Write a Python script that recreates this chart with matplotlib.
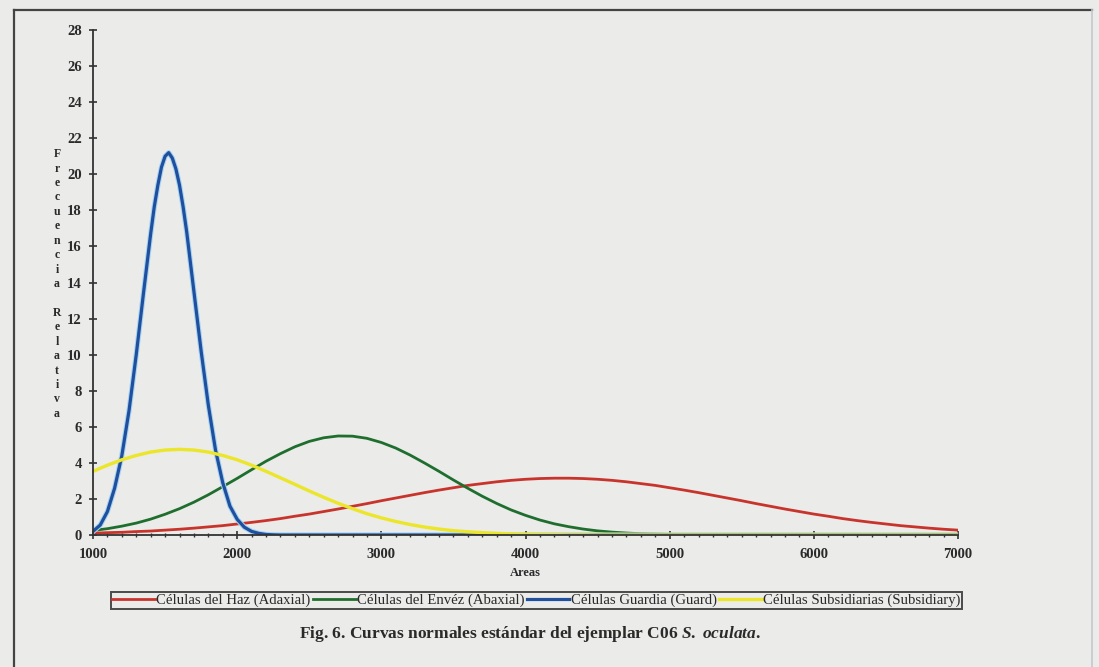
import numpy as np
import matplotlib
matplotlib.use("Agg")
import matplotlib.pyplot as plt

# areas (x) sampled every 100
areas = list(range(1000, 7001, 100))

# Células del Haz (Adaxial)
haz = [0.10, 0.13, 0.15, 0.19, 0.22, 0.27, 0.32, 0.38, 0.45, 0.52,
       0.61, 0.70, 0.80, 0.91, 1.04, 1.16, 1.30, 1.44, 1.59, 1.74,
       1.90, 2.05, 2.20, 2.35, 2.49, 2.62, 2.75, 2.85, 2.95, 3.03,
       3.09, 3.13, 3.15, 3.15, 3.13, 3.09, 3.03, 2.95, 2.85, 2.75,
       2.62, 2.49, 2.35, 2.20, 2.05, 1.90, 1.74, 1.59, 1.44, 1.30,
       1.16, 1.04, 0.91, 0.80, 0.70, 0.61, 0.52, 0.45, 0.38, 0.32,
       0.27]

# Células del Envéz (Abaxial)
enves = [0.25, 0.35, 0.49, 0.66, 0.88, 1.15, 1.46, 1.82, 2.23, 2.68,
         3.14, 3.62, 4.09, 4.51, 4.89, 5.19, 5.39, 5.49, 5.48, 5.36,
         5.13, 4.82, 4.43, 3.99, 3.53, 3.05, 2.59, 2.15, 1.75, 1.39,
         1.09, 0.83, 0.62, 0.46, 0.33, 0.23, 0.16, 0.11, 0.07, 0.05,
         0.03, 0.02, 0.01, 0.01, 0, 0, 0, 0, 0, 0,
         0, 0, 0, 0, 0, 0, 0, 0, 0, 0,
         0]

# Células Subsidiarias (Subsidiary)
subsid = [3.53, 3.87, 4.17, 4.41, 4.60, 4.71, 4.75, 4.71, 4.60, 4.41,
          4.17, 3.87, 3.53, 3.17, 2.81, 2.44, 2.09, 1.76, 1.46, 1.18,
          0.95, 0.75, 0.58, 0.44, 0.33, 0.24, 0.18, 0.13, 0.09, 0.06,
          0.04, 0.03, 0.02, 0.01, 0.01, 0, 0, 0, 0, 0,
          0, 0, 0, 0, 0, 0, 0, 0, 0, 0,
          0, 0, 0, 0, 0, 0, 0, 0, 0, 0,
          0]

# Células Guardia (Guard) - narrow peak, read more densely
areas_guard = [1000, 1050, 1100, 1150, 1200, 1250, 1300, 1350, 1400, 1425,
               1450, 1475, 1500, 1525, 1550, 1575, 1600, 1625, 1650, 1700,
               1750, 1800, 1850, 1900, 1950, 2000, 2050, 2100, 2150, 2200,
               2250, 2300, 2400, 7000]
guard = [0.20, 0.55, 1.30, 2.60, 4.40, 6.90, 10.0, 13.4, 16.7, 18.2,
         19.4, 20.4, 21.0, 21.2, 20.9, 20.3, 19.4, 18.2, 16.8, 13.5,
         10.2, 7.2, 4.7, 2.9, 1.6, 0.87, 0.43, 0.20, 0.09, 0.03,
         0.01, 0.0, 0.0, 0.0]

labels = ["Células del Haz (Adaxial)", "Células del Envéz (Abaxial)",
          "Células Guardia (Guard)", "Células Subsidiarias (Subsidiary)"]

plt.rcParams['font.family'] = ['Liberation Serif', 'DejaVu Serif']
plt.rcParams['mathtext.fontset'] = 'custom'
plt.rcParams['mathtext.it'] = 'Liberation Serif:italic:bold'
plt.rcParams['mathtext.rm'] = 'Liberation Serif:bold'

bg = '#ebebea'
ink = '#2a2a2a'
fig = plt.figure(figsize=(10.99, 6.67), dpi=100, facecolor=bg)
ax = fig.add_axes([93/1099, 1-535/667, 865/1099, 505/667])
ax.set_facecolor(bg)

l1, = ax.plot(areas, haz, color='#c8342c', lw=2.0)
l2, = ax.plot(areas, enves, color='#1f6e2e', lw=2.0)
ax.plot(areas_guard, guard, color='#a6d4f0', lw=3.8)
l3, = ax.plot(areas_guard, guard, color='#1f4f9e', lw=2.3)
l4, = ax.plot(areas, subsid, color='#ece62a', lw=2.4)

ax.set_xlim(1000, 7000)
ax.set_ylim(0, 28)
ax.set_xticks(range(1000, 7001, 1000))
ax.set_xticks(range(1000, 7001, 100), minor=True)
ax.set_yticks(range(0, 29, 2))
for s in ['top', 'right']:
    ax.spines[s].set_visible(False)
for s in ['left', 'bottom']:
    ax.spines[s].set_color('#333333')
    ax.spines[s].set_linewidth(1.3)
ax.tick_params(axis='both', which='major', direction='inout', length=6,
               width=1.2, colors='#333333', labelsize=10.5)
ax.tick_params(axis='x', which='major', pad=6)
ax.tick_params(axis='y', which='major', pad=5)
ax.tick_params(axis='x', which='minor', direction='inout', length=3,
               width=1.0, colors='#333333')
for t in ax.get_xticklabels() + ax.get_yticklabels():
    t.set_fontweight('bold')
    t.set_color(ink)

ax.set_xlabel("Areas", fontsize=9, fontweight='bold', color=ink, labelpad=5)

# vertical stacked y label
ylab = "\n".join(list("Frecuencia")) + "\n\n" + "\n".join(list("Relativa"))
fig.text(57/1099, 1-284/667, ylab, ha='center', va='center', fontsize=8.5,
         fontweight='bold', linespacing=1.27, color=ink)

leg = fig.legend([l1, l2, l3, l4], labels, ncol=4, loc='center',
                 bbox_to_anchor=(536.5/1099, 1-600.5/667), fontsize=10.6,
                 frameon=True, fancybox=False, edgecolor='#222222',
                 facecolor=bg, handlelength=2.9, handletextpad=0.1,
                 columnspacing=0.15, borderpad=0.12, borderaxespad=0)
leg.get_frame().set_linewidth(1.4)
for t in leg.get_texts():
    t.set_color(ink)

fig.text(530/1099, 1-634/667,
         r"Fig. 6. Curvas normales estándar del ejemplar C06 $\it{S.}$ $\it{oculata}$.",
         ha='center', va='center', fontsize=12.5, fontweight='bold',
         color=ink)

# page frame
fig.add_artist(plt.Line2D([14/1099, 14/1099], [0, 1-10/667], color='#444444', lw=1.6))
fig.add_artist(plt.Line2D([14/1099, 1092/1099], [1-10/667, 1-10/667], color='#444444', lw=1.6))
fig.add_artist(plt.Line2D([1092/1099, 1092/1099], [0, 1-10/667], color='#c4c8cc', lw=1.2))

fig.savefig("out.png", dpi=100, facecolor=bg)
